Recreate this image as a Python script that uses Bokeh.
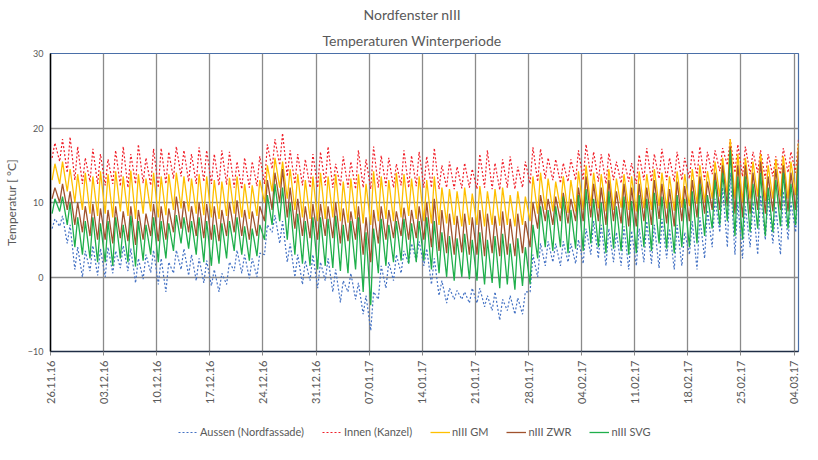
import math
import pandas as pd
from bokeh.plotting import figure
from bokeh.layouts import column
from bokeh.models import (FixedTicker, DatetimeTickFormatter, Legend, LegendItem,
                          Title, Range1d, ColumnDataSource)
from bokeh.embed import file_html
from bokeh.resources import INLINE

# ---------------- data (daily low / high readings, 26.11.16 .. 04.03.17) -------------
start_date = "2016-11-26"
tick_dates = ["2016-11-26", "2016-12-03", "2016-12-10", "2016-12-17", "2016-12-24",
              "2016-12-31", "2017-01-07", "2017-01-14", "2017-01-21", "2017-01-28",
              "2017-02-04", "2017-02-11", "2017-02-18", "2017-02-25", "2017-03-04"]
y_ticks = [-10, 0, 10, 20, 30]

aussen_lo = [6.5, 6.8, 4.5, 1.0, 0.0, 0.8, 0.2,
             0.0, 0.5, 1.2, 0.8, -0.8, -0.3, 0.6,
             -1.0, -2.0, 0.5, 1.0, 0.2, -0.5, -0.8,
             -1.2, -2.0, -1.0, 0.8, 0.5, -0.2, 0.0,
             3.0, 6.0, 4.5, 2.0, 0.0, -1.0, -0.5,
             -1.5, -0.5, -2.0, -3.4, -2.0, -3.0, -5.0,
             -7.2, -3.0, -1.5, -0.5, 0.5, 1.8, 2.2,
             1.5, -1.0, -2.5, -3.5, -3.0, -3.0, -3.5,
             -3.5, -4.0, -4.5, -5.8, -4.5, -5.0, -5.0,
             -2.0, 0.0, 1.5, 2.0, 1.5, 2.0, 1.8,
             1.8, 3.0, 2.5, 1.5, 2.0, 1.5, 1.0,
             1.5, 2.0, 1.8, 1.2, 2.5, 1.0, 1.5,
             3.0, 1.0, 2.5, 4.0, 6.0, 4.0, 3.0,
             2.5, 4.0, 3.0, 5.0, 4.5, 3.0, 5.0,
             6.0]
aussen_hi = [7.8, 8.2, 7.0, 4.0, 3.5, 4.2, 3.8,
             4.0, 3.5, 4.2, 3.8, 2.5, 3.0, 3.6,
             2.5, 2.0, 3.6, 3.8, 3.0, 2.5, 2.2,
             1.0, 0.5, 2.0, 3.6, 3.0, 2.5, 3.2,
             7.0, 8.3, 7.5, 4.5, 3.0, 2.2, 3.0,
             2.0, 2.5, 1.0, -0.5, 0.5, -0.8, -2.5,
             -2.0, 1.5, 2.0, 3.0, 3.5, 4.5, 4.8,
             3.8, 2.5, -0.5, -1.5, -1.8, -2.0, -1.5,
             -1.5, -2.5, -2.0, -3.0, -2.5, -2.8, -2.0,
             3.0, 4.5, 4.8, 4.5, 4.8, 4.5, 5.0,
             6.5, 7.5, 7.0, 6.5, 6.0, 6.8, 6.2,
             6.5, 7.5, 7.0, 7.8, 6.5, 7.0, 6.0,
             7.5, 8.0, 9.0, 10.5, 12.0, 14.0, 10.0,
             9.5, 10.0, 11.0, 10.5, 9.5, 11.5, 10.0,
             13.0]

innen_lo = [16.0, 15.5, 14.0, 13.0, 12.5, 12.8, 12.5,
            12.3, 12.5, 12.2, 12.0, 12.5, 12.6, 12.3,
            12.0, 12.5, 13.2, 13.5, 12.8, 12.5, 12.8,
            12.5, 12.3, 12.4, 12.0, 11.8, 12.0, 12.2,
            12.5, 14.5, 15.0, 13.5, 12.5, 12.3, 12.0,
            12.0, 12.3, 12.0, 12.2, 12.0, 11.8, 12.0,
            11.8, 12.0, 12.2, 12.0, 12.3, 12.0, 12.2,
            12.0, 12.0, 11.8, 12.0, 11.8, 11.9, 12.0,
            11.8, 12.0, 11.8, 11.7, 12.0, 11.8, 12.0,
            12.5, 12.8, 13.2, 13.0, 12.6, 12.8, 13.0,
            13.0, 13.5, 12.8, 12.5, 13.0, 12.6, 12.8,
            12.5, 13.0, 12.8, 13.2, 13.0, 12.8, 13.0,
            13.2, 13.5, 13.0, 13.8, 14.2, 15.0, 14.0,
            13.5, 13.8, 14.0, 13.2, 13.5, 13.8, 14.0,
            14.0]
innen_hi = [18.0, 18.5, 18.8, 17.5, 16.0, 17.2, 16.5,
            15.8, 17.0, 17.5, 16.5, 17.8, 16.0, 17.2,
            17.3, 16.8, 17.5, 17.0, 16.5, 17.4, 17.0,
            16.5, 17.0, 16.8, 15.5, 16.0, 15.5, 16.2,
            17.8, 18.5, 19.3, 17.0, 16.5, 15.8, 16.5,
            16.8, 17.5, 15.2, 16.2, 15.5, 17.0, 15.8,
            17.5, 16.3, 16.0, 15.2, 17.0, 16.3, 16.8,
            16.2, 17.3, 15.0, 15.5, 14.8, 15.3, 14.5,
            16.5, 17.0, 15.3, 15.8, 16.2, 14.8, 15.5,
            17.4, 17.2, 16.0, 15.8, 15.3, 15.8, 17.0,
            17.8, 16.8, 16.5, 16.6, 15.5, 15.8, 15.3,
            16.4, 17.3, 16.5, 17.2, 16.0, 16.8, 16.0,
            17.0, 17.5, 16.8, 17.0, 17.3, 18.5, 17.8,
            17.5, 16.8, 17.0, 16.5, 16.2, 17.3, 16.8,
            18.5]

gm_lo = [13.0, 12.5, 11.5, 10.0, 9.0, 8.5, 8.2,
         8.5, 8.0, 8.8, 8.2, 7.8, 8.5, 8.8,
         8.0, 8.3, 9.0, 9.2, 8.8, 8.5, 8.3,
         8.0, 7.8, 8.2, 8.5, 8.0, 7.8, 8.2,
         10.0, 11.5, 12.0, 10.5, 9.0, 8.0, 7.8,
         7.5, 7.8, 8.0, 7.5, 7.3, 7.8, 7.2,
         7.0, 7.5, 7.8, 7.5, 8.0, 8.2, 7.8,
         7.5, 7.2, 7.0, 7.2, 7.0, 6.8, 7.0,
         7.0, 6.8, 7.0, 6.9, 7.0, 6.8, 7.0,
         7.5, 8.5, 9.0, 8.8, 9.2, 8.6, 8.8,
         9.0, 9.5, 9.2, 8.8, 9.0, 9.3, 9.0,
         8.8, 9.2, 9.0, 9.5, 9.2, 8.9, 9.3,
         9.5, 9.8, 10.0, 10.5, 10.8, 11.0, 10.5,
         10.0, 10.5, 10.8, 10.2, 10.5, 10.8, 10.5,
         11.0]
gm_hi = [15.2, 15.5, 14.5, 13.8, 14.0, 13.5, 14.2,
         13.8, 14.2, 13.5, 14.3, 13.8, 13.2, 14.0,
         13.5, 13.8, 14.0, 13.5, 13.2, 13.8, 13.5,
         13.0, 12.8, 13.3, 13.5, 12.5, 12.3, 13.0,
         15.0, 16.0, 15.5, 14.5, 13.8, 13.0, 13.5,
         14.0, 13.5, 13.8, 12.8, 13.2, 13.8, 12.5,
         14.2, 13.5, 13.0, 14.0, 13.8, 13.2, 13.5,
         13.0, 13.5, 12.0, 11.8, 11.5, 12.0, 11.2,
         12.2, 11.5, 11.8, 12.0, 11.0, 11.5, 10.8,
         13.5, 14.0, 13.2, 12.8, 13.5, 13.0, 14.2,
         15.0, 14.0, 13.8, 14.5, 13.2, 13.8, 13.5,
         14.2, 13.8, 14.5, 14.0, 13.5, 14.2, 13.8,
         14.5, 15.0, 14.2, 15.5, 16.0, 18.5, 16.5,
         16.0, 15.5, 16.5, 15.0, 15.8, 16.2, 15.5,
         18.0]

zwr_lo = [10.5, 10.0, 9.0, 7.0, 6.0, 5.5, 5.0,
          5.0, 4.5, 5.2, 4.8, 4.3, 5.0, 5.5,
          4.8, 5.0, 6.0, 6.5, 6.0, 5.5, 5.2,
          5.0, 4.8, 5.5, 6.0, 5.5, 5.0, 5.5,
          7.5, 9.0, 10.0, 8.0, 6.5, 5.5, 5.2,
          5.0, 5.5, 5.2, 4.5, 4.8, 5.0, 3.0,
          2.0, 4.5, 5.0, 5.2, 5.5, 5.0, 5.2,
          5.0, 4.0, 3.5, 3.2, 3.0, 3.3, 3.0,
          3.0, 2.8, 3.2, 2.8, 3.0, 2.8, 3.2,
          4.0, 6.5, 7.5, 7.0, 7.5, 7.2, 7.5,
          7.5, 8.0, 7.5, 7.0, 7.5, 7.2, 6.8,
          6.8, 7.5, 7.0, 7.8, 7.2, 6.8, 7.5,
          7.5, 8.0, 8.5, 9.0, 9.0, 9.5, 8.5,
          8.0, 8.5, 9.0, 8.5, 8.8, 9.0, 8.8,
          9.0]
zwr_hi = [12.0, 12.5, 11.5, 10.0, 9.5, 9.8, 9.2,
          9.0, 9.5, 8.8, 9.5, 9.0, 8.5, 9.8,
          9.5, 9.2, 10.8, 10.2, 9.5, 10.0, 9.8,
          9.5, 9.0, 10.0, 10.3, 9.0, 8.8, 9.5,
          13.0, 14.0, 14.5, 12.0, 10.5, 9.5, 9.8,
          9.8, 9.5, 10.0, 9.2, 8.8, 9.5, 8.0,
          9.0, 9.5, 9.0, 8.8, 9.3, 9.0, 9.5,
          10.0, 10.5, 9.0, 8.5, 8.2, 8.5, 8.0,
          9.0, 8.5, 8.2, 8.8, 7.8, 8.5, 7.5,
          10.0, 11.0, 10.5, 10.8, 11.3, 10.5, 12.0,
          13.5, 12.5, 12.0, 13.0, 11.5, 12.5, 12.0,
          12.5, 12.0, 13.0, 12.5, 11.8, 12.8, 12.2,
          13.0, 13.5, 12.8, 14.0, 15.0, 17.5, 15.0,
          15.0, 14.0, 15.5, 13.5, 14.5, 15.0, 14.0,
          17.0]

svg_lo = [8.5, 8.8, 7.0, 4.0, 3.0, 2.5, 2.0,
          2.0, 1.5, 2.5, 2.0, 1.4, 2.2, 3.0,
          2.0, 2.5, 3.5, 4.5, 3.8, 3.0, 2.0,
          1.5, 1.8, 2.5, 3.5, 3.0, 2.2, 2.8,
          5.0, 7.0, 7.5, 5.0, 3.0, 1.8, 1.5,
          1.0, 1.5, 1.2, 0.8, 0.5, 1.0, -2.0,
          -3.8, 0.5, 1.5, 2.0, 2.2, 1.8, 2.0,
          2.2, 1.0, 0.5, 0.0, -0.5, 0.0, -0.3,
          -0.5, -1.0, -0.8, -1.5, -1.0, -1.7, -1.2,
          -1.0, 2.5, 4.0, 3.5, 4.0, 3.2, 3.8,
          3.5, 4.5, 4.0, 3.2, 3.8, 3.5, 3.0,
          3.2, 4.0, 3.5, 4.5, 3.8, 3.2, 4.0,
          4.0, 4.5, 5.5, 6.5, 7.0, 7.5, 5.5,
          5.0, 6.0, 6.5, 5.5, 6.0, 6.8, 6.5,
          7.0]
svg_hi = [10.5, 10.8, 10.0, 8.0, 7.5, 8.0, 7.2,
          7.5, 8.0, 7.0, 8.2, 7.5, 7.0, 8.0,
          7.5, 7.2, 8.3, 8.0, 7.5, 8.0, 7.5,
          7.0, 7.2, 7.5, 8.0, 6.8, 6.5, 7.0,
          11.0, 12.5, 12.0, 10.0, 8.5, 7.5, 8.0,
          8.0, 7.8, 8.2, 7.0, 7.5, 8.0, 6.0,
          6.5, 7.8, 7.0, 7.5, 7.8, 7.2, 7.5,
          8.0, 7.5, 6.0, 5.5, 5.2, 5.8, 5.0,
          6.0, 5.0, 5.5, 5.8, 4.5, 5.2, 4.0,
          7.0, 9.5, 9.0, 9.5, 10.8, 9.0, 11.0,
          11.8, 10.5, 10.0, 11.5, 9.5, 10.8, 10.2,
          11.0, 10.5, 11.3, 10.8, 10.0, 11.0, 10.5,
          11.5, 12.5, 11.0, 13.0, 14.0, 17.0, 13.5,
          13.5, 12.5, 14.0, 12.0, 13.0, 14.0, 12.5,
          15.0]

series = [
    ("Aussen (Nordfassade)", aussen_lo, aussen_hi, "#4472C4", "dotted"),
    ("Innen (Kanzel)", innen_lo, innen_hi, "#F0202A", "dotted"),
    ("nIII GM", gm_lo, gm_hi, "#FFC000", "solid"),
    ("nIII ZWR", zwr_lo, zwr_hi, "#A0522D", "solid"),
    ("nIII SVG", svg_lo, svg_hi, "#1FAF4B", "solid"),
]

# ---------------- figure -------------
FONT = "Lato"
TXT = "#595959"

t0 = pd.Timestamp(start_date)
x_start = t0
x_end = pd.Timestamp("2017-03-04") + pd.Timedelta(hours=14)

p = figure(width=800, height=414, x_axis_type="datetime",
           output_backend="svg", toolbar_location=None,
           x_range=Range1d(x_start, x_end), y_range=Range1d(-10, 30),
           min_border_left=42, min_border_right=2, min_border_top=46,
           min_border_bottom=63)

p.title.text = "Nordfenster nIII"
p.title.align = "left"
p.title.offset = 313
p.title.text_font = FONT
p.title.text_font_size = "14px"
p.title.text_font_style = "normal"
p.title.text_color = TXT
p.title.standoff = 6
p.add_layout(Title(text="Temperaturen Winterperiode", align="left", offset=272,
                   text_font=FONT, text_font_size="14px", text_font_style="normal",
                   text_color=TXT, standoff=9), "above")

sources = []
for name, lo, hi, col, dash in series:
    xs, ys = [], []
    for i in range(len(lo)):
        d = t0 + pd.Timedelta(days=i)
        xs.append(d + pd.Timedelta(hours=5))
        ys.append(lo[i])
        xs.append(d + pd.Timedelta(hours=14))
        ys.append(hi[i])
    sources.append(ColumnDataSource(dict(x=xs, y=ys)))


def draw(fig, src, col, dash):
    if dash == "dotted":
        return fig.line("x", "y", source=src, line_color=col, line_width=1.2,
                        line_dash="2 2")
    return fig.line("x", "y", source=src, line_color=col, line_width=1.3)


for (name, lo, hi, col, dash), src in zip(series, sources):
    draw(p, src, col, dash)

tick_ms = [pd.Timestamp(d).value / 1e6 for d in tick_dates]
p.xaxis.ticker = FixedTicker(ticks=tick_ms)
fmt = "%d.%m.%y"
p.xaxis.formatter = DatetimeTickFormatter(days=fmt, months=fmt, years=fmt,
                                          hours=fmt, minutes=fmt, seconds=fmt,
                                          milliseconds=fmt, minsec=fmt, hourmin=fmt)
p.xaxis.major_label_orientation = math.pi / 2
p.yaxis.ticker = FixedTicker(ticks=y_ticks)

for ax in (p.xaxis, p.yaxis):
    ax.major_label_text_font = FONT
    ax.major_label_text_color = TXT
    ax.minor_tick_line_color = None
    ax.minor_tick_out = 0
p.xaxis.major_label_text_font_size = "11px"
p.yaxis.major_label_text_font_size = "9px"
p.xaxis.axis_line_color = "#1f2d45"
p.xaxis.axis_line_width = 1.5
p.xaxis.major_tick_line_color = "#8a8a8a"
p.xaxis.major_tick_in = 0
p.xaxis.major_tick_out = 4
p.yaxis.axis_line_color = "black"
p.yaxis.axis_line_width = 1.5
p.yaxis.major_tick_line_color = None
p.yaxis.major_tick_out = 0
p.yaxis.major_tick_in = 0
p.yaxis.major_label_standoff = 7
p.yaxis.axis_label = "Temperatur [ °C]"
p.yaxis.axis_label_text_font = FONT
p.yaxis.axis_label_text_font_size = "12px"
p.yaxis.axis_label_text_font_style = "normal"
p.yaxis.axis_label_text_color = TXT
p.yaxis.axis_label_standoff = 6

p.xgrid.grid_line_color = "#8a8a8a"
p.xgrid.grid_line_width = 1.3
p.ygrid.grid_line_color = "#8a8a8a"
p.ygrid.grid_line_width = 1.3
p.outline_line_color = "#4a6fa8"
p.outline_line_width = 1.2
p.background_fill_color = "white"
p.border_fill_color = "white"

# ---------------- legend strip (same series, drawn outside its visible y-range) -------------
lg = figure(width=800, height=26, output_backend="svg", toolbar_location=None,
            x_range=p.x_range, y_range=Range1d(100, 101),
            x_axis_location=None, y_axis_location=None,
            min_border_left=0, min_border_right=0, min_border_top=0, min_border_bottom=0)
lg.xgrid.visible = False
lg.ygrid.visible = False
lg.outline_line_color = None
lg.title.visible = False
items = []
for (name, lo, hi, col, dash), src in zip(series, sources):
    r = draw(lg, src, col, dash)
    items.append(LegendItem(label=name, renderers=[r]))

legend = Legend(items=items, orientation="horizontal", location=(126, 0),
                label_text_font=FONT, label_text_font_size="11px",
                label_text_color=TXT, glyph_width=20, glyph_height=10,
                label_standoff=2, spacing=18, padding=2, margin=0,
                border_line_alpha=0, background_fill_alpha=0)
lg.add_layout(legend, "center")

layout = column(p, lg, spacing=0)
open("out.html", "w").write(file_html(layout, INLINE))
